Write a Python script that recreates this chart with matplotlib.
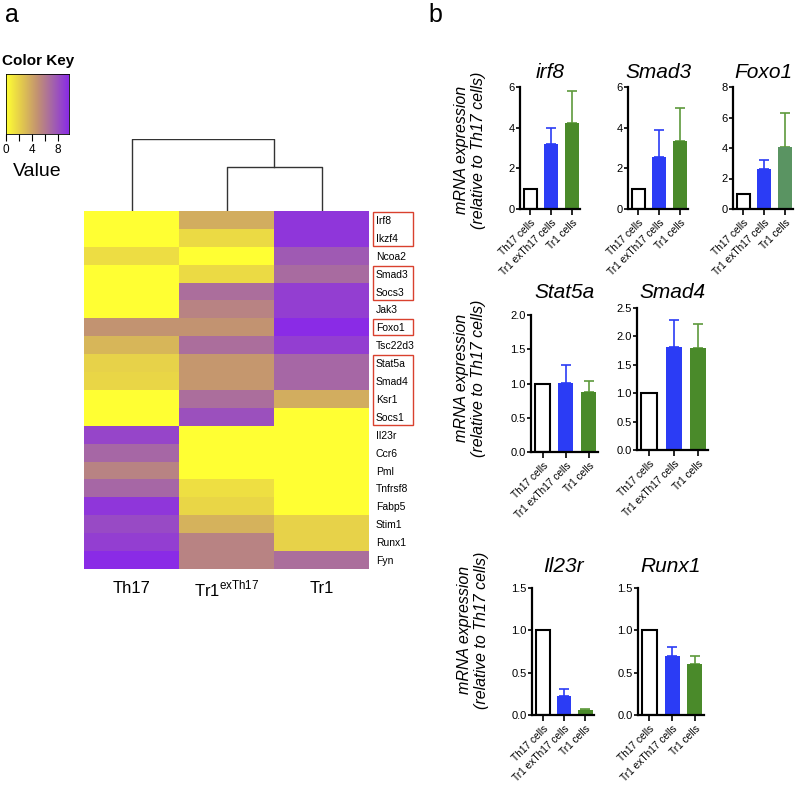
import numpy as np
import matplotlib
matplotlib.use("Agg")
import matplotlib.pyplot as plt
from matplotlib.colors import LinearSegmentedColormap
from matplotlib.patches import Rectangle
import matplotlib.transforms as mtransforms

plt.rcParams['font.family'] = ['Liberation Sans', 'DejaVu Sans']

# heatmap data (rows = genes, cols = Th17, Tr1exTh17, Tr1)
genes = ["Irf8", "Ikzf4", "Ncoa2", "Smad3", "Socs3", "Jak3", "Foxo1", "Tsc22d3",
         "Stat5a", "Smad4", "Ksr1", "Socs1", "Il23r", "Ccr6", "Pml", "Tnfrsf8",
         "Fabp5", "Stim1", "Runx1", "Fyn"]
th17 = [0, 0, 1.5, 0, 0, 0, 4.8, 3.2, 2.0, 1.8, 0, 0, 8.5, 7.0, 5.6, 7.0, 9.2, 8.3, 8.8, 9.7]
tr1ex = [3.6, 1.6, 0, 1.6, 6.6, 5.6, 4.8, 6.6, 4.6, 4.6, 6.6, 8.0, 0, 0, 0, 1.4, 1.8, 3.4, 5.6, 5.6]
tr1 = [9.2, 9.2, 7.6, 6.8, 8.8, 8.8, 9.8, 8.8, 7.0, 7.0, 3.6, 0, 0, 0, 0, 0, 0, 2.0, 2.0, 6.6]
boxed = [(0, 1), (3, 4), (6, 6), (8, 11)]

# bar chart data
groups = ["Th17 cells", "Tr1 exTh17 cells", "Tr1 cells"]
panels = {
    "irf8":   ([1.0, 3.2, 4.22], [0, 0.8, 1.58], 6, 2),
    "Smad3":  ([1.0, 2.55, 3.35], [0, 1.35, 1.6], 6, 2),
    "Foxo1":  ([1.0, 2.6, 4.05], [0, 0.62, 2.25], 8, 2),
    "Stat5a": ([1.0, 1.01, 0.88], [0, 0.26, 0.15], 2.0, 0.5),
    "Smad4":  ([1.0, 1.82, 1.80], [0, 0.46, 0.42], 2.5, 0.5),
    "Il23r":  ([1.0, 0.23, 0.06], [0, 0.075, 0.012], 1.5, 0.5),
    "Runx1":  ([1.0, 0.70, 0.60], [0, 0.10, 0.10], 1.5, 0.5),
}

W, H = 800, 788
fig = plt.figure(figsize=(8, 7.88), dpi=100)


def px(x0, y0, x1, y1):
    return [x0 / W, 1 - y1 / H, (x1 - x0) / W, (y1 - y0) / H]


cmap = LinearSegmentedColormap.from_list(
    "key", ["#ffff33", "#e2c84e", "#c29272", "#a362ac", "#8a2be6"])
vmax = 9.7

# ---- panel a: heatmap
mat = np.array([th17, tr1ex, tr1]).T
ax = fig.add_axes(px(84, 211, 369, 569))
ax.imshow(mat, cmap=cmap, vmin=0, vmax=vmax, aspect="auto", interpolation="nearest")
ax.set_xticks([])
ax.yaxis.tick_right()
ax.set_yticks(range(len(genes)))
ax.set_yticklabels(genes, fontsize=7.5)
ax.tick_params(axis="y", length=0, pad=5)
for s in ax.spines.values():
    s.set_visible(False)
tr = mtransforms.blended_transform_factory(ax.transAxes, ax.transData)
for a, b in boxed:
    ax.add_patch(Rectangle((1.014, a - 0.45), 0.14, b - a + 0.9, transform=tr,
                           fill=False, edgecolor="#d9412e", lw=1.0, clip_on=False))

col_names = ["Th17", "Tr1$^{\\mathregular{exTh17}}$", "Tr1"]
for i, name in enumerate(col_names):
    ax.text(i, 20.6, name, ha="center", va="center", fontsize=12)

# dendrogram
dax = fig.add_axes(px(84, 139, 369, 211))
dax.set_xlim(-0.5, 2.5)
dax.set_ylim(0, 1)
dax.axis("off")
inner, root = 0.61, 1.0
dax.plot([1, 1, 2, 2], [0, inner, inner, 0], color="#333333", lw=1)
dax.plot([0, 0, 1.5, 1.5], [0, root, root, inner], color="#333333", lw=1)

# color key
kax = fig.add_axes(px(6, 74, 69, 134))
kax.imshow(np.linspace(0, vmax, 200)[None, :], cmap=cmap, aspect="auto",
           extent=[0, vmax, 0, 1])
kax.set_yticks([])
kax.set_xticks([0, 2, 4, 6, 8])
kax.set_xticklabels(["0", "", "4", "", "8"], fontsize=8.5)
kax.tick_params(axis="x", length=5, pad=2)
for s in kax.spines.values():
    s.set_linewidth(0.6)
fig.text(2 / W, 1 - 61 / H, "Color Key", fontsize=11, fontweight="bold", va="center")
fig.text(37 / W, 1 - 171 / H, "Value", fontsize=14, ha="center", va="center")

fig.text(5 / W, 1 - 15 / H, "a", fontsize=18, va="center")
fig.text(428 / W, 1 - 15 / H, "b", fontsize=18, va="center")

# ---- panel b: bar charts
boxes = {
    "irf8":   (520, 87, 580, 209),
    "Smad3":  (628, 87, 688, 209),
    "Foxo1":  (733, 87, 793, 209),
    "Stat5a": (531, 315, 598, 452),
    "Smad4":  (637, 308, 708, 450),
    "Il23r":  (532, 588, 594, 715),
    "Runx1":  (638, 588, 704, 715),
}
title_y = {"irf8": 73, "Smad3": 73, "Foxo1": 73, "Stat5a": 292, "Smad4": 292,
           "Il23r": 567, "Runx1": 567}
bar_colors = ["white", "#2b3cf5", "#4a8a2a"]
err_colors = ["black", "#2b3cf5", "#5e9a3c"]

for name, (vals, errs, top, step) in panels.items():
    x0, y0, x1, y1 = boxes[name]
    b = fig.add_axes(px(x0, y0, x1, y1))
    cols = list(bar_colors)
    if name == "Foxo1":
        cols[2] = "#5a9462"
    for i in range(3):
        b.bar(i, vals[i], width=0.66, color=cols[i], edgecolor="black" if i == 0 else cols[i],
              lw=1.5 if i == 0 else 0, zorder=2)
        if errs[i] > 0:
            b.errorbar(i, vals[i], yerr=[[0], [errs[i]]], color=err_colors[i],
                       capsize=3.5, lw=1.2, capthick=1.2, zorder=1)
    b.set_xlim(-0.5, 2.4)
    b.set_ylim(0, top)
    b.set_yticks(np.arange(0, top + 1e-9, step))
    if step == 0.5:
        b.set_yticklabels(["%.1f" % v for v in np.arange(0, top + 1e-9, step)])
    b.set_xticks(range(3))
    b.set_xticklabels(groups, rotation=45, ha="right", rotation_mode="anchor", fontsize=7.3)
    b.tick_params(axis="y", labelsize=8, length=3, width=1.2, pad=1)
    b.tick_params(axis="x", length=4, width=1.2, pad=2)
    for s in ["top", "right"]:
        b.spines[s].set_visible(False)
    for s in ["left", "bottom"]:
        b.spines[s].set_linewidth(1.6)
    fig.text((x0 + x1) / 2 / W, 1 - title_y[name] / H, name, fontsize=15,
             style="italic", ha="center", va="center")

ylab = "mRNA expression\n(relative to Th17 cells)"
for xx, yy in [(470, 150), (470, 378), (473, 630)]:
    fig.text(xx / W, 1 - yy / H, ylab, rotation=90, style="italic", fontsize=11.5,
             ha="center", va="center", linespacing=1.1)

fig.savefig("out.png", dpi=100)
